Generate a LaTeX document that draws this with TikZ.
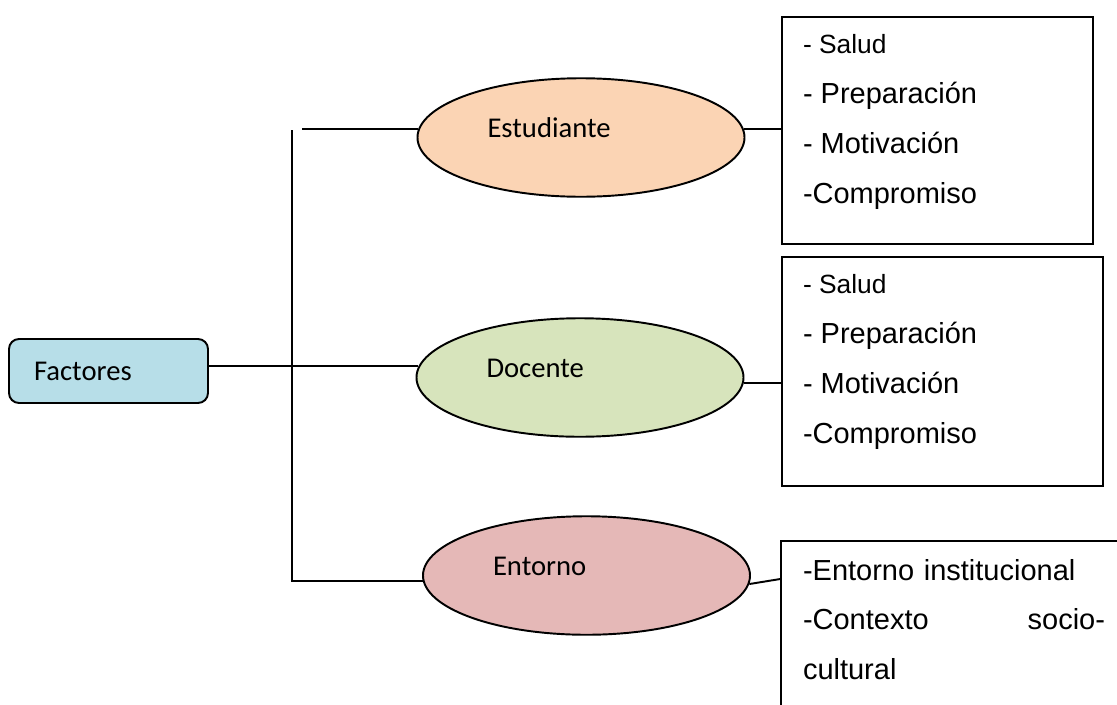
\documentclass[tikz,border=0pt]{standalone}
\usepackage{fontspec}
\setmainfont{Carlito}
\newfontfamily\arialfont{Liberation Sans}
\usepackage{tikz}
\usetikzlibrary{shapes,positioning,calc}
\definecolor{facBlue}{RGB}{183,222,232}
\definecolor{estOrange}{RGB}{251,212,180}
\definecolor{docGreen}{RGB}{215,228,188}
\definecolor{entRed}{RGB}{229,184,183}

\begin{document}
\begin{tikzpicture}[
  line width=1.1pt,
  raiz/.style={draw, rounded corners=0.2cm, fill=facBlue, minimum width=3.98cm, minimum height=1.28cm, text width=2.98cm, inner xsep=0.5cm, align=left, font=\fontsize{16.3}{19.5}\selectfont},
  elipse/.style={draw, ellipse, minimum width=6.54cm, minimum height=2.37cm, inner sep=0pt},
  etiqueta/.style={font=\fontsize{16.3}{19.5}\selectfont, inner sep=0pt},
  caja/.style={draw, rectangle, inner sep=0pt},
  lista/.style={font=\arialfont\fontsize{16.5}{28.4}\selectfont, align=left, inner sep=0pt}
]

% ===== frame =====
\useasboundingbox (0,0) rectangle (22.34,-14.08);
\clip (0,0) rectangle (22.34,-14.08);

% Root node
\node[raiz] (fac) at (2.17,-7.42) {Factores};

% ===== ELLIPSES =====
\node[elipse, fill=estOrange] (est) at (11.62,-2.75) {};
\node[elipse, fill=docGreen] (doc) at (11.60,-7.55) {};
\node[elipse, fill=entRed] (ent) at (11.73,-11.51) {};

\node[etiqueta, base right=1.4cm of est.west] (estT) {Estudiante};
\node[etiqueta, base right=1.4cm of doc.west] (docT) {Docente};
\node[etiqueta, base right=1.4cm of ent.west] (entT) {Entorno};

% ===== BOXES =====
\node[caja, minimum width=6.22cm, minimum height=4.54cm] (caja1) at (18.75,-2.61) {};
\node[caja, minimum width=6.42cm, minimum height=4.58cm] (caja2) at (18.85,-7.43) {};
\node[caja, minimum width=7.18cm, minimum height=4.38cm] (caja3) at (19.21,-13.01) {};

\node[lista, below right=0.35cm and 0.42cm of caja1.north west] (lista1) {{\fontsize{15}{28.4}\selectfont - Salud}\\- Preparación\\- Motivación\\-Compromiso};
\node[lista, below right=0.35cm and 0.42cm of caja2.north west] (lista2) {{\fontsize{15}{28.4}\selectfont - Salud}\\- Preparación\\- Motivación\\-Compromiso};
\node[lista, text width=6.04cm, below right=0.36cm and 0.44cm of caja3.north west] (lista3) {-Entorno institucional\\-Contexto\hfill socio-\\cultural};

% ===== CONNECTORS =====
\coordinate (tronco) at (5.84,-2.6);
\coordinate (inicio) at (6.04,-2.6);

\draw (fac.east |- doc.176) -- (doc.176);
\draw (tronco) -- (tronco |- ent.182) -- (ent.182);
\draw (inicio |- est.177) -- (est.177);

\draw (est.3) -- (est.3 -| caja1.west);
\draw (doc.358) -- (doc.358 -| caja2.west);
\draw (ent.357) -- ([yshift=-0.78cm]caja3.north west);

\end{tikzpicture}
\end{document}
